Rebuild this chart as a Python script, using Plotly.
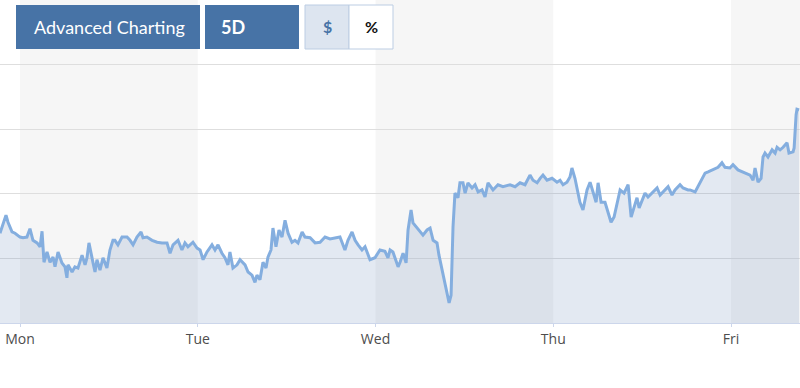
import plotly.graph_objects as go

# ---- data: time in trading days from Monday 00:00, price values ----
t = [-0.1125, -0.0788, -0.0675, -0.045, -0.028, 0.0, 0.017, 0.039, 0.056, 0.073,
     0.096, 0.113, 0.124, 0.135, 0.152, 0.169, 0.186, 0.197, 0.214, 0.236,
     0.253, 0.264, 0.270, 0.293, 0.309, 0.326, 0.349, 0.366, 0.377, 0.388,
     0.411, 0.422, 0.433, 0.450, 0.467, 0.489, 0.506, 0.523, 0.534, 0.551,
     0.574, 0.602, 0.619, 0.636, 0.658, 0.681, 0.692, 0.714, 0.743, 0.771,
     0.799, 0.827, 0.844, 0.861, 0.889, 0.911, 0.928, 0.945, 0.973, 0.996,
     1.013, 1.030, 1.052, 1.080, 1.097, 1.114, 1.136, 1.153, 1.170, 1.181,
     1.198, 1.221, 1.238, 1.266, 1.283, 1.305, 1.322, 1.333, 1.350, 1.367,
     1.384, 1.395, 1.412, 1.423, 1.440, 1.457, 1.474, 1.491, 1.508, 1.530,
     1.547, 1.564, 1.587, 1.603, 1.632, 1.660, 1.688, 1.716, 1.744, 1.783,
     1.800, 1.828, 1.845, 1.868, 1.885, 1.902, 1.924, 1.941, 1.969, 1.997,
     2.025, 2.053, 2.070, 2.082, 2.098, 2.127, 2.138, 2.155, 2.172, 2.183,
     2.200, 2.211, 2.234, 2.250, 2.267, 2.290, 2.307, 2.324, 2.346, 2.357,
     2.374, 2.385, 2.402, 2.414, 2.425, 2.436, 2.447, 2.464, 2.475, 2.492,
     2.504, 2.520, 2.543, 2.560, 2.577, 2.599, 2.616, 2.633, 2.661, 2.689,
     2.717, 2.757, 2.785, 2.813, 2.841, 2.869, 2.886, 2.909, 2.926, 2.942,
     2.965, 2.993, 3.021, 3.038, 3.055, 3.077, 3.094, 3.105, 3.122, 3.139,
     3.150, 3.167, 3.190, 3.207, 3.224, 3.241, 3.252, 3.269, 3.291, 3.308,
     3.325, 3.342, 3.359, 3.376, 3.398, 3.421, 3.438, 3.454, 3.471, 3.483,
     3.499, 3.516, 3.533, 3.556, 3.584, 3.601, 3.618, 3.646, 3.668, 3.685,
     3.713, 3.730, 3.758, 3.769, 3.798, 3.826, 3.854, 3.871, 3.899, 3.927,
     3.949, 3.966, 3.994, 4.011, 4.039, 4.062, 4.079, 4.107, 4.124, 4.135,
     4.152, 4.169, 4.180, 4.191, 4.208, 4.231, 4.248, 4.259, 4.276, 4.293,
     4.315, 4.326, 4.349, 4.355, 4.366, 4.371, 4.383]

price = [96.39, 96.67, 96.56, 96.41, 96.39, 96.33, 96.32, 96.33, 96.46, 96.28,
         96.24, 96.18, 96.42, 95.94, 96.10, 95.94, 96.02, 95.87, 96.10, 95.93,
         95.87, 95.70, 95.90, 95.79, 95.87, 95.85, 96.05, 95.90, 96.01, 96.24,
         95.93, 95.79, 95.98, 95.82, 96.01, 95.85, 96.13, 96.28, 96.28, 96.21,
         96.33, 96.33, 96.28, 96.21, 96.33, 96.41, 96.32, 96.33, 96.28, 96.25,
         96.24, 96.24, 96.08, 96.21, 96.28, 96.13, 96.24, 96.18, 96.25, 96.16,
         96.13, 95.98, 96.10, 96.21, 96.13, 96.21, 96.08, 96.01, 95.90, 96.10,
         95.85, 95.90, 95.98, 95.90, 95.79, 95.74, 95.63, 95.74, 95.67, 95.94,
         95.85, 96.02, 96.13, 96.47, 96.18, 96.44, 96.33, 96.59, 96.39, 96.25,
         96.28, 96.24, 96.41, 96.33, 96.32, 96.24, 96.25, 96.33, 96.30, 96.32,
         96.33, 96.13, 96.28, 96.41, 96.28, 96.21, 96.13, 96.18, 95.98, 96.01,
         96.13, 96.11, 96.01, 96.13, 96.10, 95.87, 95.94, 96.08, 95.93, 96.44,
         96.75, 96.55, 96.47, 96.41, 96.36, 96.44, 96.47, 96.28, 96.24, 96.05,
         95.82, 95.67, 95.48, 95.31, 95.43, 96.49, 97.01, 96.94, 97.17, 97.17,
         97.01, 97.17, 97.09, 97.14, 97.03, 97.06, 96.95, 97.17, 97.06, 97.14,
         97.11, 97.14, 97.11, 97.17, 97.14, 97.29, 97.21, 97.17, 97.24, 97.29,
         97.21, 97.24, 97.18, 97.21, 97.14, 97.18, 97.26, 97.40, 97.24, 96.98,
         96.87, 96.75, 97.06, 97.18, 97.01, 96.87, 97.17, 96.87, 96.87, 96.72,
         96.56, 96.64, 96.86, 97.06, 97.01, 97.14, 96.64, 96.80, 96.94, 96.78,
         96.90, 97.01, 96.95, 97.01, 97.09, 96.98, 97.03, 97.11, 96.98, 97.06,
         97.14, 97.09, 97.06, 97.06, 97.03, 97.17, 97.32, 97.34, 97.37, 97.41,
         97.48, 97.41, 97.40, 97.45, 97.37, 97.34, 97.32, 97.29, 97.21, 97.40,
         97.18, 97.24, 97.57, 97.63, 97.57, 97.68, 97.63, 97.72, 97.68, 97.72,
         97.79, 97.63, 97.65, 97.71, 98.22, 98.31, 98.30]

day_ticks = [0, 1, 2, 3, 4]
day_labels = ["Mon", "Tue", "Wed", "Thu", "Fri"]
grid_vals = [96, 97, 98, 99]
button_labels = ["Advanced Charting", "5D", "$", "%"]

W, H = 800, 388
PLOT_H = 323  # plot area height in px (margin top 0)
X_RANGE = [-0.1125, 4.388]
Y_RANGE = [95, 100]

fig = go.Figure()
fig.add_trace(go.Scatter(
    x=t, y=price, mode="lines",
    line=dict(color="#84aedf", width=3),
    fill="tozeroy", fillcolor="rgba(115,145,190,0.2)",
    hoverinfo="skip", showlegend=False,
))

shapes = []
# alternating day bands
for i, d in enumerate(day_ticks):
    if i % 2 == 0:
        shapes.append(dict(type="rect", xref="x", yref="paper",
                           x0=d, x1=min(d + 1, X_RANGE[1]), y0=0, y1=1,
                           fillcolor="#f6f6f6", line=dict(width=0), layer="below"))


def px_x(p):
    return p / W


def px_y(p):
    return 1 - p / PLOT_H


# buttons
btn_boxes = [(16, 200, "#4773a6", None), (205, 299, "#4773a6", None),
             (305, 349, "#dde5f0", "#bccde3"), (349, 393, "#ffffff", "#bccde3")]
for (x0, x1, fc, lc) in btn_boxes:
    shapes.append(dict(type="rect", xref="paper", yref="paper",
                       x0=px_x(x0), x1=px_x(x1), y0=px_y(49), y1=px_y(5),
                       fillcolor=fc,
                       line=dict(color=lc if lc else fc, width=1 if lc else 0),
                       layer="above"))

annotations = [
    dict(text=button_labels[0], x=px_x(32), y=px_y(27), xref="paper", yref="paper",
         xanchor="left", yanchor="middle", showarrow=False,
         font=dict(family="Lato", size=18, color="#ffffff")),
    dict(text="<b>" + button_labels[1] + "</b>", x=px_x(219), y=px_y(27), xref="paper", yref="paper",
         xanchor="left", yanchor="middle", showarrow=False,
         font=dict(family="Lato", size=18, color="#ffffff")),
    dict(text="<b>" + button_labels[2] + "</b>", x=px_x(327), y=px_y(27), xref="paper", yref="paper",
         xanchor="center", yanchor="middle", showarrow=False,
         font=dict(family="Lato", size=16, color="#4773a6")),
    dict(text="<b>" + button_labels[3] + "</b>", x=px_x(371), y=px_y(27), xref="paper", yref="paper",
         xanchor="center", yanchor="middle", showarrow=False,
         font=dict(family="Lato", size=16, color="#111111")),
]

fig.update_layout(
    width=W, height=H,
    margin=dict(l=0, r=0, t=0, b=H - PLOT_H),
    paper_bgcolor="#ffffff", plot_bgcolor="#ffffff",
    shapes=shapes, annotations=annotations,
    xaxis=dict(range=X_RANGE, tickvals=day_ticks, ticktext=day_labels,
               showgrid=False, zeroline=False, showline=True, linecolor="#ccd6eb",
               linewidth=1, ticks="outside", ticklen=3, tickcolor="#ccd6eb",
               tickfont=dict(family="Open Sans", size=14, color="#4d4d4d"),
               fixedrange=True),
    yaxis=dict(range=Y_RANGE, tickvals=grid_vals, showticklabels=False,
               showgrid=True, gridcolor="#dedede", gridwidth=1, zeroline=False,
               showline=False, fixedrange=True),
    hovermode=False,
)

fig.write_html("out.html", config={"displayModeBar": False},
               post_script="document.body.style.margin='0';document.body.style.overflow='hidden';")
